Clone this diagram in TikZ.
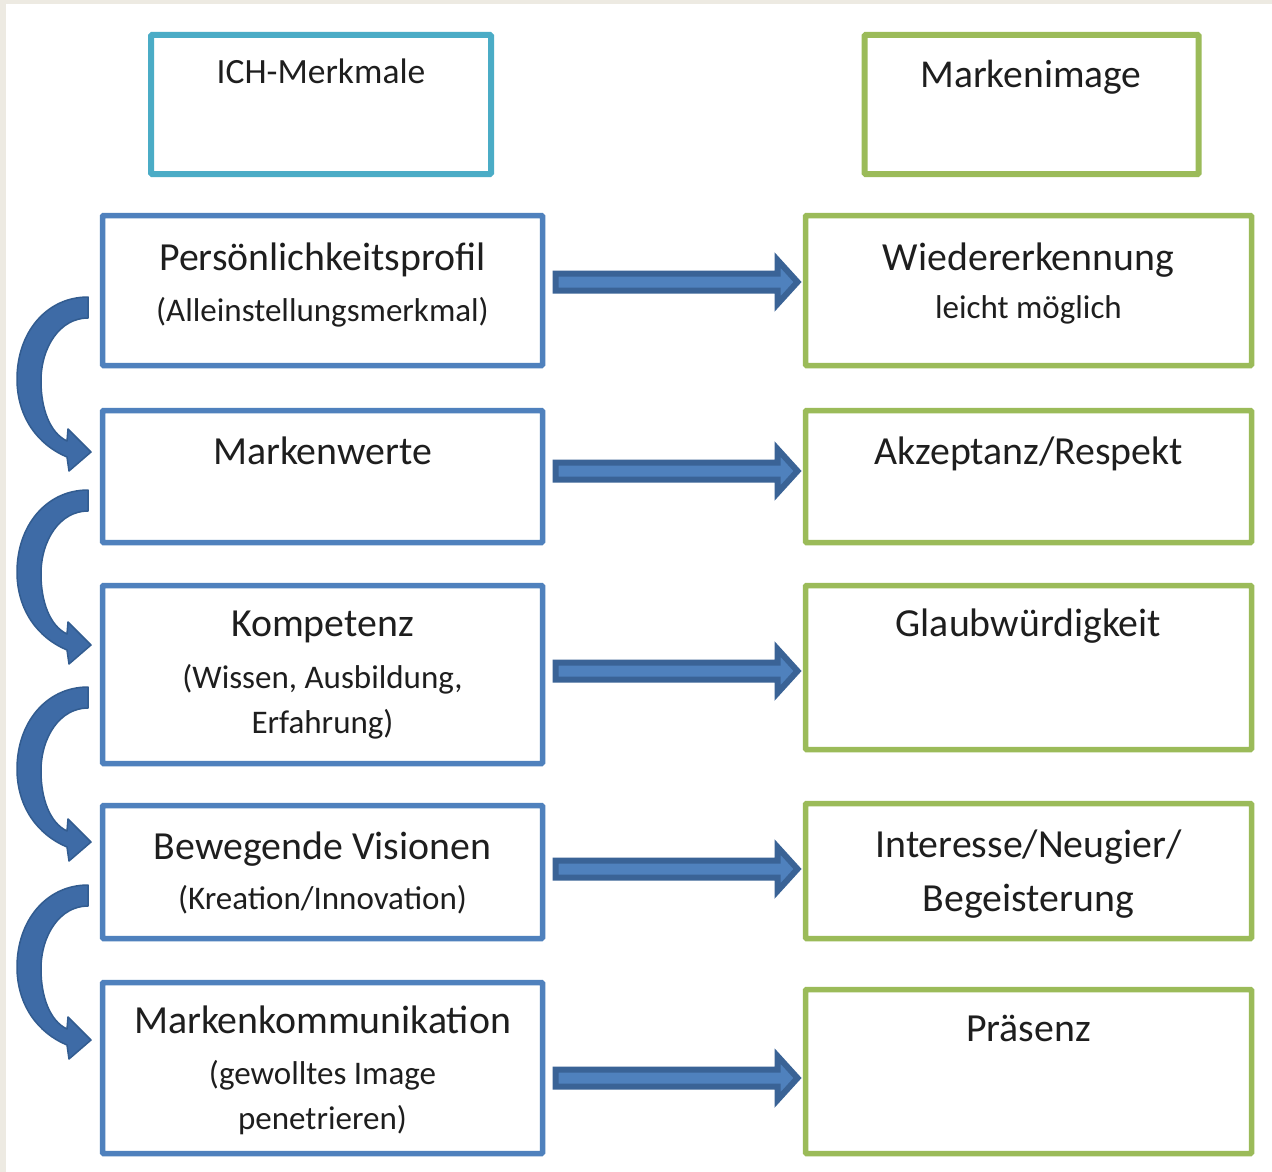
\documentclass[tikz,border=0pt]{standalone}
\usepackage{fontspec}
\setmainfont{Carlito}
\usetikzlibrary{calc}
\definecolor{boxblue}{HTML}{4F81BD}
\definecolor{boxteal}{HTML}{4BACC6}
\definecolor{boxgreen}{HTML}{9BBB59}
\definecolor{arrowdark}{HTML}{3A6396}
\definecolor{arrowfill}{HTML}{4F81BD}
\definecolor{curvefill}{HTML}{3E6BA6}
\definecolor{curveedge}{HTML}{325C90}
\definecolor{txt}{HTML}{1E1E1E}
\definecolor{framegray}{HTML}{EDEAE2}
\begin{document}
\begin{tikzpicture}[x=1pt,y=-1pt,
  box/.style={draw, inner sep=0pt, outer sep=0pt, line width=5.5pt, rounded corners=1pt, fill=white},
  lbox/.style={box, draw=boxblue, minimum width=440pt},
  rbox/.style={box, draw=boxgreen, minimum width=446pt},
  topbox/.style={box, line width=6pt, minimum height=139pt},
  headtxt/.style={font=\fontsize{39.8}{45}\selectfont, text=txt, anchor=base, inner sep=0pt},
  subtxt/.style={font=\fontsize{33}{38}\selectfont, text=txt, anchor=base, inner sep=0pt},
  toptxt/.style={font=\fontsize{35.5}{40}\selectfont, text=txt, anchor=base, inner sep=0pt},
  blockarrow/.style={fill=arrowfill, draw=arrowdark, line width=6pt, line join=miter},
  curvestyle/.style={fill=curvefill, draw=curveedge, line width=1.5pt, line join=round},
  curvearrow/.pic={
    \filldraw[curvestyle] (0,0) .. controls (-42,0) and (-71,36) .. (-71,82)
      .. controls (-71,120) and (-50,148) .. (-21,160)
      -- (-19,174) -- (3,155) -- (-20,132) -- (-21,144)
      .. controls (-38,136) and (-47,112) .. (-47,84)
      .. controls (-47,50) and (-28,21) .. (0,21) -- cycle;
  }]
\useasboundingbox (0,0) rectangle (1272,1172);
\fill[framegray] (0,0) rectangle (1272,1172);
\fill[white] (6,4) rectangle (1272,1172);

% top header boxes
\node[topbox, draw=boxteal, minimum width=340pt] (ich) at (321,104.5) {};
\node[topbox, draw=boxgreen, minimum width=334pt] (mi) at (1031.5,104.5) {};
\node[toptxt] (ichT) at (321,84) {ICH-Merkmale};
\node[toptxt, font=\fontsize{39.5}{44}\selectfont] (miT) at (1031,88) {Markenimage};

% left boxes
\node[lbox, minimum height=150pt] (l1) at (322.5,290.5) {};
\node[lbox, minimum height=132pt] (l2) at (322.5,476.5) {};
\node[lbox, minimum height=178pt] (l3) at (322.5,674.5) {};
\node[lbox, minimum height=133pt] (l4) at (322.5,872) {};
\node[lbox, minimum height=171pt] (l5) at (322.5,1068) {};

% right boxes
\node[rbox, minimum height=150pt] (r1) at (1028.5,290.5) {};
\node[rbox, minimum height=132pt] (r2) at (1028.5,476.5) {};
\node[rbox, minimum height=164pt] (r3) at (1028.5,667.5) {};
\node[rbox, minimum height=135pt] (r4) at (1028.5,871) {};
\node[rbox, minimum height=164pt] (r5) at (1028.5,1071.5) {};

% left texts
\node[headtxt] (l1a) at (322.5,270) {Persönlichkeitsprofil};
\node[subtxt]  (l1b) at (322.5,321) {(Alleinstellungsmerkmal)};
\node[headtxt] (l2a) at (322.5,464) {Markenwerte};
\node[headtxt] (l3a) at (322.5,636) {Kompetenz};
\node[subtxt]  (l3b) at (322.5,688) {(Wissen, Ausbildung,};
\node[subtxt]  (l3c) at (322.5,733) {Erfahrung)};
\node[headtxt] (l4a) at (322.5,859) {Bewegende Visionen};
\node[subtxt]  (l4b) at (322.5,909) {(Kreation/Innovation)};
\node[headtxt] (l5a) at (322.5,1033) {Markenkommunikation};
\node[subtxt]  (l5b) at (322.5,1084) {(gewolltes Image};
\node[subtxt]  (l5c) at (322.5,1129) {penetrieren)};

% right texts
\node[headtxt] (r1a) at (1028.5,270) {Wiedererkennung};
\node[subtxt]  (r1b) at (1028.5,318) {leicht möglich};
\node[headtxt] (r2a) at (1028.5,464) {Akzeptanz/Respekt};
\node[headtxt] (r3a) at (1028.5,636) {Glaubwürdigkeit};
\node[headtxt] (r4a) at (1028.5,857) {Interesse/Neugier/};
\node[headtxt] (r4b) at (1028.5,911) {Begeisterung};
\node[headtxt] (r5a) at (1028.5,1041) {Präsenz};

% horizontal block arrows
\foreach \i/\yy in {1/282,2/471,3/671,4/869,5/1078}{
  \coordinate (hy\i) at (0,\yy);
  \coordinate (hs\i) at ($(l\i.east |- hy\i)+(10,0)$);
  \coordinate (he\i) at ($(r\i.west |- hy\i)+(-4,0)$);
  \path[blockarrow] ($(hs\i)+(3,-8.5)$) -- ($(he\i)+(-24,-8.5)$) -- ($(he\i)+(-24,-22)$)
     -- ($(he\i)+(-4,0)$) -- ($(he\i)+(-24,22)$) -- ($(he\i)+(-24,8.5)$)
     -- ($(hs\i)+(3,8.5)$) -- cycle;
}

% curved arrows between left boxes
\foreach \yy in {297,490,687,885}{
  \pic at (88,\yy) {curvearrow};
}
\end{tikzpicture}
\end{document}
